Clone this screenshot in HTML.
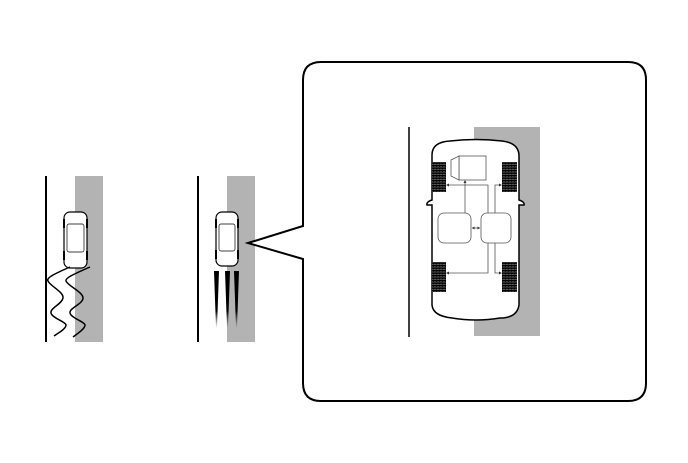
<!DOCTYPE html>
<html><head><meta charset="utf-8"><style>html,body{margin:0;padding:0;background:#fff}svg{display:block}</style></head>
<body>
<svg width="688" height="463" viewBox="0 0 688 463" xmlns="http://www.w3.org/2000/svg">
<defs>
<pattern id="tread" width="3" height="2.5" patternUnits="userSpaceOnUse"><rect width="3" height="2.5" fill="#555"/><path d="M0 1.25 L0.75 0 L1.5 1.25 L2.25 0 L3 1.25" stroke="#000" stroke-width="1" fill="none"/></pattern>
<linearGradient id="fade" x1="0" y1="0" x2="0" y2="1"><stop offset="0" stop-color="#000"/><stop offset="0.7" stop-color="#000"/><stop offset="1" stop-color="#000" stop-opacity="0"/></linearGradient>
</defs>

<g>
<line x1="46" y1="176" x2="46" y2="342" stroke="#000" stroke-width="2"/>
<rect x="75" y="176" width="28" height="166" fill="#b3b3b3"/>
<g>
<rect x="64" y="212" width="23" height="56" rx="6" fill="#fff" stroke="#000" stroke-width="1.2"/>
<rect x="67" y="224" width="17" height="28" rx="2" fill="none" stroke="#000" stroke-width="0.7"/>
<rect x="63" y="219" width="2" height="9" fill="#000"/><rect x="86" y="219" width="2" height="9" fill="#000"/>
<rect x="63" y="251" width="2" height="9" fill="#000"/><rect x="86" y="251" width="2" height="9" fill="#000"/>
</g>
<path d="M70 267 C54 274 46 278 48 281 C50 286 64 292 63 298 C62 304 50 308 51 313 C52 318 66 322 66 325 C66 329 58 333 54 336" fill="none" stroke="#000" stroke-width="1.5"/>
<path d="M90 267 C74 274 65 278 66 281 C68 286 83 292 83 298 C83 304 69 308 70 313 C71 318 85 322 85 325 C85 329 77 334 73 337" fill="none" stroke="#000" stroke-width="1.5"/>
</g>

<g>
<line x1="198" y1="176" x2="198" y2="342" stroke="#000" stroke-width="2"/>
<rect x="227" y="176" width="28" height="166" fill="#b3b3b3"/>
<g>
<rect x="216" y="212" width="22" height="54" rx="6" fill="#fff" stroke="#000" stroke-width="1.2"/>
<rect x="219" y="224" width="16" height="27" rx="2" fill="none" stroke="#000" stroke-width="0.7"/>
<rect x="215" y="219" width="2" height="9" fill="#000"/><rect x="237" y="219" width="2" height="9" fill="#000"/>
<rect x="215" y="250" width="2" height="9" fill="#000"/><rect x="237" y="250" width="2" height="9" fill="#000"/>
</g>
<polygon points="214,271 219,271 217,328 216,328" fill="url(#fade)"/>
<polygon points="225,271 230,271 228,328 227,328" fill="url(#fade)"/>
<polygon points="234,271 239,271 237,328 236,328" fill="url(#fade)"/>
</g>

<path d="M321 62 H628 Q646 62 646 80 V383 Q646 401 628 401 H321 Q303 401 303 383 V259 L248 243 L303 226 V80 Q303 62 321 62 Z" fill="#fff" stroke="#000" stroke-width="2"/>

<g>
<line x1="409" y1="127" x2="409" y2="337" stroke="#000" stroke-width="1.5"/>
<rect x="474" y="127" width="66" height="209" fill="#b3b3b3"/>
<path d="M432 200 V155 Q432 142 450 141 Q476 138 502 141 Q519 143 519 156 V200 Q525 202 524 205 L519 205 V305 Q517 318 500 318 Q476 322 452 318 Q433 316 432 305 V205 L427 205 Q426 202 432 200 Z" fill="#fff" stroke="#000" stroke-width="1.5"/>
<rect x="432" y="162" width="14" height="30" fill="url(#tread)"/>
<rect x="502" y="162" width="15" height="30" fill="url(#tread)"/>
<rect x="432" y="262" width="14" height="30" fill="url(#tread)"/>
<rect x="502" y="262" width="15" height="30" fill="url(#tread)"/>
<g fill="#fff" stroke="#555" stroke-width="0.8">
<rect x="459" y="156" width="27" height="24"/>
<polygon points="451,160 459,156 459,180 451,176"/>
</g>
<rect x="438" y="213" width="33" height="30" rx="6" fill="#fff" stroke="#555" stroke-width="0.8"/>
<rect x="481" y="213" width="30" height="30" rx="6" fill="#fff" stroke="#555" stroke-width="0.8"/>
<g stroke="#555" stroke-width="0.8" fill="none">
<path d="M465 213 V182"/>
<path d="M447 185 H488 V213"/>
<path d="M488 243 V273 H447"/>
<path d="M495 213 V185 H501"/>
<path d="M495 243 V273 H501"/>
<path d="M472 228 H480"/>
</g>
<g fill="#333">
<polygon points="446,185 449,183.5 449,186.5"/><polygon points="446,273 449,271.5 449,274.5"/>
<polygon points="502,185 499,183.5 499,186.5"/><polygon points="502,273 499,271.5 499,274.5"/>
<polygon points="465,180 463.5,183 466.5,183"/>
<polygon points="472,228 474.5,226.5 474.5,229.5"/><polygon points="480,228 477.5,226.5 477.5,229.5"/>
</g>
</g>
</svg>
</body></html>
